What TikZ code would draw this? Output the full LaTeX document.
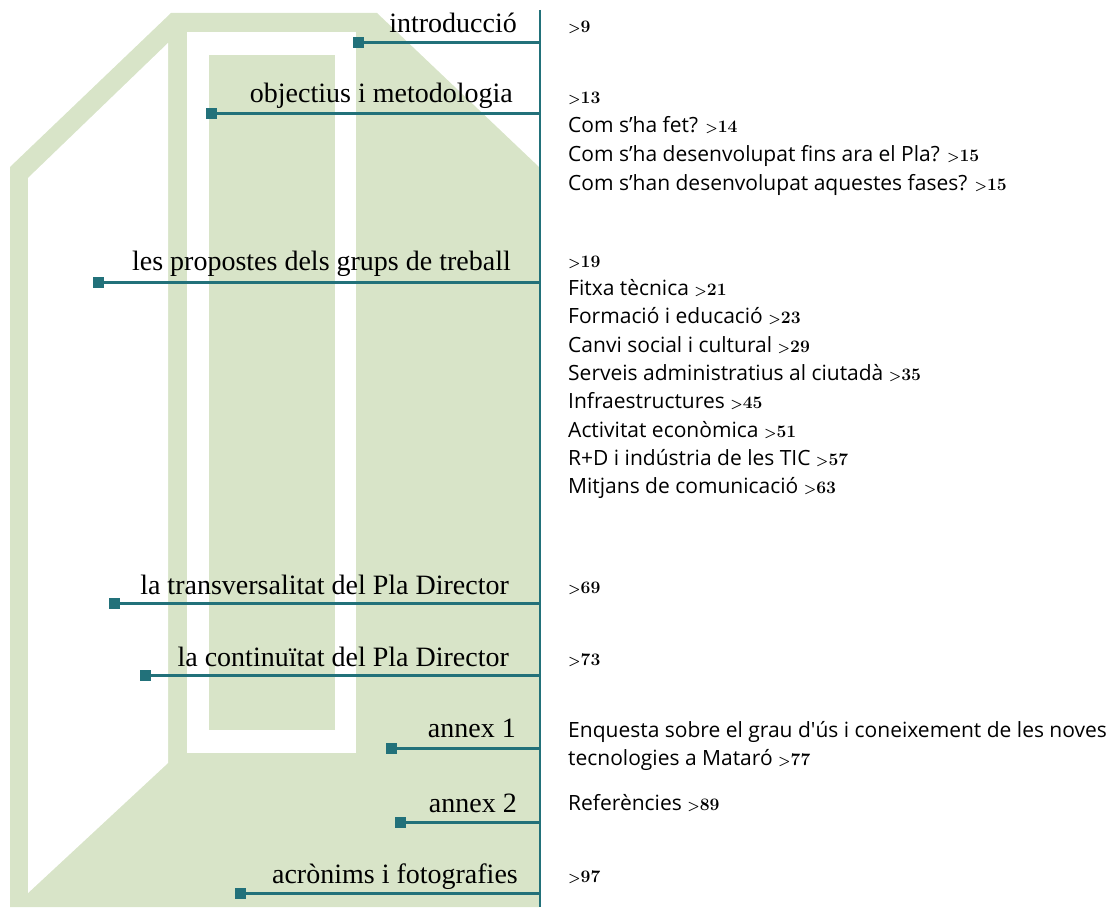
\documentclass[tikz,border=0pt]{standalone}
\usepackage{fontspec}
\usepackage{tikz}
\usetikzlibrary{calc}
\usepackage{xcolor}

\newfontfamily\chapfont{Liberation Serif}
\newfontfamily\entryfont{Open Sans}
\definecolor{sage}{RGB}{216, 228, 200}
\definecolor{tocteal}{RGB}{34, 113, 122}
\newcommand{\pgnum}[1]{{\rmfamily\bfseries{\fontsize{14}{14}\selectfont >}\fontsize{17.5}{17.5}\selectfont #1}}

\begin{document}
\begin{tikzpicture}[x=1pt, y=-1pt,
  chapter/.style={font=\chapfont\fontsize{28}{28}\selectfont, anchor=base east, inner sep=0pt},
  entry/.style={font=\entryfont\fontsize{21}{21}\selectfont, anchor=base west, inner sep=0pt},
  tocsq/.style={fill=tocteal, minimum size=11pt, inner sep=0pt},
  conn/.style={draw=tocteal, line width=3pt}]

  \useasboundingbox (0, 0) rectangle (1118, 907);

  % background shape
  \fill[sage] (10, 907) -- (10, 167) -- (171, 13) -- (377, 13) -- (539, 167) -- (539, 907) -- cycle;
  \fill[white] (28, 178) -- (168, 43) -- (168, 763) -- (28, 893) -- cycle;
  \fill[white] (187, 32) rectangle (356, 753);
  \fill[sage] (209, 55) rectangle (335, 730);

  % spine
  \coordinate (top) at (540, 10);
  \coordinate (bot) at (540, 907);
  \draw[tocteal, line width=2.5pt] (top) -- (bot);

  % chapters
  \node[chapter] (c1) at (517, 33) {introducció};
  \node[chapter] (c2) at (513, 102) {objectius i metodologia};
  \node[chapter] (c3) at (511, 270) {les propostes dels grups de treball};
  \node[chapter] (c4) at (509, 594) {la transversalitat del Pla Director};
  \node[chapter] (c5) at (509, 666) {la continuïtat del Pla Director};
  \node[chapter] (c6) at (516, 737) {annex 1};
  \node[chapter] (c7) at (517, 812) {annex 2};
  \node[chapter] (c8) at (518, 883) {acrònims i fotografies};

  \node[tocsq] (s1) at (358, 43) {};
  \node[tocsq] (s2) at (211, 113) {};
  \node[tocsq] (s3) at (98, 282) {};
  \node[tocsq] (s4) at (114, 603) {};
  \node[tocsq] (s5) at (145, 675) {};
  \node[tocsq] (s6) at (391, 748) {};
  \node[tocsq] (s7) at (400, 822) {};
  \node[tocsq] (s8) at (240, 893) {};

  \coordinate (p1) at (540, 43);
  \coordinate (p2) at (540, 113);
  \coordinate (p3) at (540, 282);
  \coordinate (p4) at (540, 603);
  \coordinate (p5) at (540, 675);
  \coordinate (p6) at (540, 748);
  \coordinate (p7) at (540, 822);
  \coordinate (p8) at (540, 893);

  \draw[conn] (s1) -- (p1);
  \draw[conn] (s2) -- (p2);
  \draw[conn] (s3) -- (p3);
  \draw[conn] (s4) -- (p4);
  \draw[conn] (s5) -- (p5);
  \draw[conn] (s6) -- (p6);
  \draw[conn] (s7) -- (p7);
  \draw[conn] (s8) -- (p8);

  % entries
  \node[entry] (e1) at (568, 33) {\pgnum{9}};
  \node[entry] (e2) at (568, 103) {\pgnum{13}};
  \node[entry] (e2a) at (568, 132) {Com s’ha fet? \pgnum{14}};
  \node[entry] (e2b) at (568, 161) {Com s’ha desenvolupat fins ara el Pla? \pgnum{15}};
  \node[entry] (e2c) at (568, 190) {Com s’han desenvolupat aquestes fases? \pgnum{15}};
  \node[entry] (e3) at (568, 267) {\pgnum{19}};
  \node[entry] (e3a) at (568, 295) {Fitxa tècnica \pgnum{21}};
  \node[entry] (e3b) at (568, 323) {Formació i educació \pgnum{23}};
  \node[entry] (e3c) at (568, 352) {Canvi social i cultural \pgnum{29}};
  \node[entry] (e3d) at (568, 380) {Serveis administratius al ciutadà \pgnum{35}};
  \node[entry] (e3e) at (568, 408) {Infraestructures \pgnum{45}};
  \node[entry] (e3f) at (568, 437) {Activitat econòmica \pgnum{51}};
  \node[entry] (e3g) at (568, 465) {R+D i indústria de les TIC \pgnum{57}};
  \node[entry] (e3h) at (568, 493) {Mitjans de comunicació \pgnum{63}};
  \node[entry] (e4) at (568, 593) {\pgnum{69}};
  \node[entry] (e5) at (568, 665) {\pgnum{73}};
  \node[entry] (e6) at (568, 737) {Enquesta sobre el grau d\textquotesingle ús i coneixement de les noves};
  \node[entry] (e6a) at (568, 765) {tecnologies a Mataró \pgnum{77}};
  \node[entry] (e7) at (568, 810) {Referències \pgnum{89}};
  \node[entry] (e8) at (568, 882) {\pgnum{97}};
\end{tikzpicture}
\end{document}
